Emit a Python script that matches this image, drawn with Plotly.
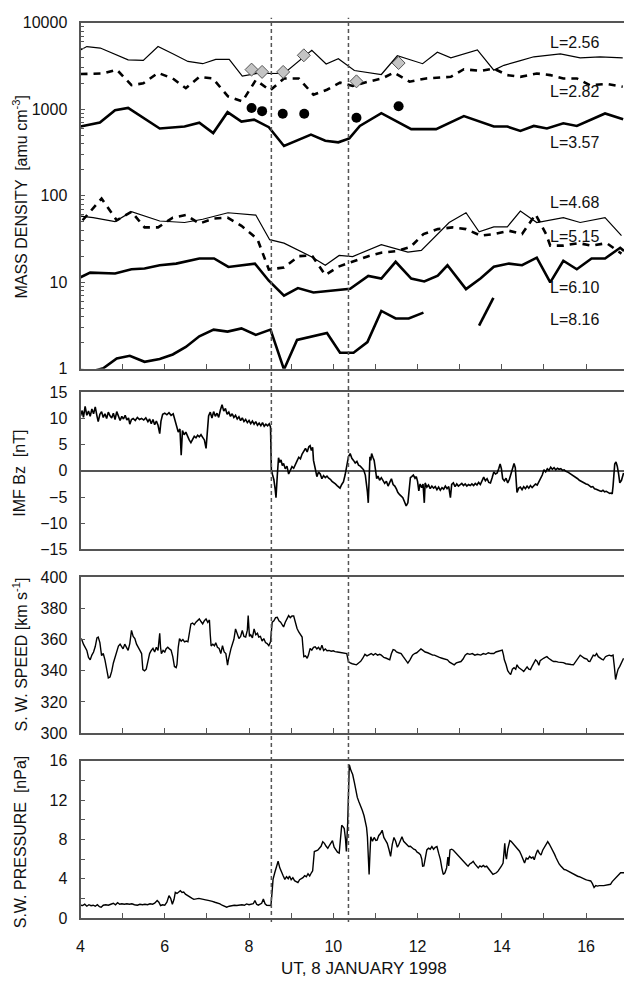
import plotly.graph_objects as go

# ---------------- data ----------------
event_times = [8.53, 10.36]

L256_t = [4.0, 4.15, 4.47, 5.13, 5.49, 5.84, 6.19, 6.55, 6.9, 7.21, 7.53, 7.84, 8.2, 8.55, 8.83, 9.49, 9.83, 10.12, 10.5, 11.14, 11.52, 12.12, 12.47, 12.79, 13.42, 13.81, 14.05, 14.4, 14.76, 15.39, 15.86, 16.33, 16.87]
L256 = [4840, 5300, 5100, 3730, 3670, 5300, 4370, 3570, 3360, 3770, 3770, 2420, 2600, 2620, 2590, 4800, 3330, 3830, 2800, 2520, 4150, 3360, 4560, 3930, 4840, 2830, 3220, 3600, 4040, 4370, 3930, 4040, 3930]

L282_t = [4.0, 4.54, 4.86, 5.21, 5.49, 5.84, 6.19, 6.5, 6.82, 7.14, 7.5, 7.84, 8.16, 8.5, 8.83, 9.18, 9.53, 9.85, 10.16, 10.46, 10.83, 11.16, 11.44, 11.81, 12.2, 12.79, 13.1, 13.5, 13.81, 14.13, 14.44, 14.83, 15.15, 15.46, 15.78, 16.09, 16.49, 16.87]
L282 = [2550, 2590, 2870, 1900, 1990, 2630, 2270, 1750, 2370, 2270, 1410, 1230, 2170, 1650, 2270, 2270, 1470, 1680, 2030, 1860, 2080, 2270, 2650, 2080, 2270, 2370, 2900, 2770, 2950, 2480, 2370, 2590, 2480, 2270, 2270, 1900, 1960, 1820]

L357_t = [4.0, 4.46, 4.82, 5.13, 5.88, 6.47, 6.82, 7.15, 7.49, 7.82, 8.12, 8.47, 8.83, 9.47, 9.81, 10.12, 10.38, 10.63, 11.14, 11.61, 11.85, 12.44, 13.1, 13.81, 14.13, 14.44, 14.76, 15.07, 15.46, 15.78, 16.45, 16.88]
L357 = [630, 700, 975, 1035, 598, 630, 700, 530, 925, 720, 757, 620, 376, 508, 432, 414, 460, 641, 900, 670, 588, 588, 832, 630, 630, 562, 641, 598, 687, 641, 893, 764]

L468_t = [4.0, 4.3, 4.82, 5.21, 5.88, 6.47, 6.9, 7.5, 8.16, 8.49, 8.83, 9.49, 9.81, 10.14, 10.46, 11.14, 11.77, 12.09, 12.75, 13.15, 13.46, 13.81, 14.13, 14.44, 14.83, 15.46, 15.86, 16.45, 16.84]
L468 = [58.2, 55.7, 50.2, 65.3, 51, 49, 53.4, 63.5, 59.7, 31, 28.3, 19.6, 15.7, 20.4, 19.8, 27.1, 22.3, 23.3, 49, 63.5, 38.3, 43.6, 43.6, 66.4, 49, 55.7, 49, 55.7, 34.5]

L515_t = [4.05, 4.5, 4.86, 5.21, 5.52, 5.84, 6.19, 6.5, 6.82, 7.17, 7.49, 7.82, 8.2, 8.47, 8.83, 9.18, 9.49, 9.81, 10.12, 10.51, 10.83, 11.16, 11.48, 11.83, 12.14, 12.48, 12.83, 13.15, 13.5, 13.81, 14.17, 14.48, 14.8, 15.05, 15.15, 15.46, 15.82, 16.13, 16.49, 16.84]
L515 = [52, 92.5, 52, 65.3, 43, 43, 55.7, 59.7, 47.6, 54.5, 55.7, 44.8, 31.5, 14, 14.8, 20, 20.4, 12.1, 15.1, 17.7, 20, 22, 22.8, 25.5, 36, 41.1, 43, 41.1, 34.5, 36, 39.3, 36, 60.8, 36, 26.5, 26.5, 28.3, 26.5, 28.3, 21.4]

L610_t = [4.0, 4.23, 4.82, 5.21, 5.52, 5.88, 6.27, 6.82, 7.17, 7.51, 8.14, 8.47, 8.83, 9.16, 9.53, 10.04, 10.4, 10.83, 11.14, 11.48, 11.85, 12.16, 12.48, 12.71, 13.15, 13.5, 13.81, 14.17, 14.48, 14.83, 15.15, 15.46, 15.78, 16.13, 16.45, 16.81, 16.9]
L610 = [11.4, 12.9, 12.6, 14.1, 14.4, 15.7, 16.4, 18.8, 18.8, 15, 16.4, 10.4, 6.98, 8.55, 7.6, 8.06, 8.4, 11.8, 11, 17.2, 11, 10.2, 11.9, 15.7, 8.32, 11.1, 15.1, 16.4, 15.7, 19.2, 9.93, 17.7, 14.1, 18.8, 18.8, 25, 23]

L816_t = [4.0, 4.3, 4.54, 4.86, 5.17, 5.52, 5.88, 6.19, 6.5, 6.82, 7.16, 7.49, 7.82, 8.16, 8.51, 8.83, 9.14, 9.49, 9.85, 10.16, 10.48, 10.81, 11.14, 11.48, 11.79, 12.14, None, 13.46, 13.8]
L816 = [0.966, 0.94, 1.01, 1.31, 1.41, 1.2, 1.29, 1.46, 1.78, 2.37, 2.83, 2.68, 2.92, 2.46, 2.83, 0.98, 2.15, 2.37, 2.59, 1.53, 1.53, 2.03, 4.65, 3.8, 3.8, 4.45, None, 3.14, 6.58]

diam_t = [8.06, 8.31, 8.81, 9.3, 10.55, 11.55]
diam_v = [2870, 2700, 2700, 4200, 2100, 3420]
dot_t = [8.06, 8.31, 8.8, 9.31, 10.55, 11.55]
dot_v = [1035, 950, 885, 885, 796, 1080]

curve_labels = ["L=2.56", "L=2.82", "L=3.57", "L=4.68", "L=5.15", "L=6.10", "L=8.16"]
label_x = 15.1
label_logy = [3.773, 3.205, 2.614, 1.92, 1.534, 0.943, 0.568]

bz_t = [4.00, 4.04, 4.07, 4.11, 4.15, 4.19, 4.23, 4.27, 4.31, 4.35, 4.39, 4.42, 4.46, 4.50, 4.54, 4.58, 4.62, 4.66, 4.70, 4.74, 4.78, 4.82, 4.86, 4.90, 4.94, 4.98, 5.02, 5.06, 5.10, 5.14, 5.17, 5.21, 5.25, 5.30, 5.35, 5.40, 5.45, 5.50, 5.55, 5.60, 5.64, 5.68, 5.72, 5.76, 5.80, 5.84, 5.88, 5.91, 5.95, 6.00, 6.05, 6.10, 6.15, 6.20, 6.24, 6.28, 6.32, 6.36, 6.39, 6.42, 6.46, 6.50, 6.54, 6.58, 6.62, 6.66, 6.70, 6.74, 6.78, 6.82, 6.86, 6.90, 6.94, 6.98, 7.01, 7.04, 7.08, 7.12, 7.16, 7.20, 7.24, 7.28, 7.32, 7.36, 7.40, 7.44, 7.48, 7.52, 7.56, 7.60, 7.64, 7.68, 7.72, 7.76, 7.80, 7.84, 7.88, 7.92, 7.96, 8.00, 8.04, 8.08, 8.12, 8.16, 8.20, 8.24, 8.28, 8.32, 8.36, 8.40, 8.44, 8.48, 8.51, 8.53, 8.56, 8.59, 8.62, 8.64, 8.67, 8.70, 8.73, 8.76, 8.79, 8.82, 8.86, 8.90, 8.94, 8.98, 9.02, 9.06, 9.10, 9.14, 9.18, 9.22, 9.26, 9.30, 9.34, 9.38, 9.42, 9.45, 9.48, 9.51, 9.53, 9.57, 9.61, 9.65, 9.69, 9.73, 9.77, 9.81, 9.85, 9.89, 9.93, 9.97, 10.01, 10.05, 10.09, 10.13, 10.16, 10.20, 10.24, 10.28, 10.32, 10.36, 10.40, 10.44, 10.48, 10.52, 10.56, 10.60, 10.64, 10.68, 10.72, 10.76, 10.79, 10.81, 10.83, 10.85, 10.87, 10.89, 10.91, 10.94, 10.97, 11.00, 11.03, 11.06, 11.10, 11.14, 11.18, 11.22, 11.26, 11.30, 11.34, 11.38, 11.42, 11.46, 11.50, 11.53, 11.57, 11.61, 11.65, 11.69, 11.73, 11.77, 11.80, 11.83, 11.86, 11.90, 11.94, 11.97, 12.00, 12.03, 12.06, 12.10, 12.13, 12.16, 12.18, 12.22, 12.26, 12.30, 12.34, 12.38, 12.42, 12.46, 12.50, 12.54, 12.58, 12.62, 12.66, 12.70, 12.74, 12.78, 12.81, 12.85, 12.89, 12.93, 12.97, 13.01, 13.05, 13.09, 13.13, 13.17, 13.21, 13.25, 13.29, 13.33, 13.37, 13.41, 13.45, 13.49, 13.53, 13.57, 13.61, 13.65, 13.69, 13.73, 13.77, 13.81, 13.85, 13.89, 13.93, 13.96, 13.99, 14.02, 14.06, 14.10, 14.14, 14.18, 14.22, 14.26, 14.29, 14.32, 14.34, 14.36, 14.40, 14.44, 14.48, 14.52, 14.56, 14.60, 14.64, 14.68, 14.72, 14.76, 14.80, 14.84, 14.88, 14.92, 14.96, 15.00, 15.04, 15.08, 15.12, 15.16, 15.20, 15.24, 15.28, 15.32, 15.36, 15.40, 15.44, 15.48, 15.52, 15.56, 15.60, 15.64, 15.68, 15.72, 15.76, 15.80, 15.84, 15.88, 15.92, 15.96, 16.00, 16.04, 16.08, 16.12, 16.16, 16.20, 16.24, 16.28, 16.32, 16.36, 16.40, 16.44, 16.48, 16.52, 16.56, 16.60, 16.62, 16.64, 16.66, 16.68, 16.71, 16.74, 16.77, 16.80, 16.84, 16.89]
bz_v = [10.5, 11.5, 10.2, 12.3, 10.6, 11.4, 10.4, 11.8, 10.9, 12.2, 10.5, 9.4, 10.8, 11.3, 10.2, 10.9, 10.0, 11.2, 10.5, 10.1, 11.0, 9.8, 11.3, 10.2, 9.6, 10.4, 9.9, 10.6, 9.7, 10.1, 8.9, 9.8, 10.0, 9.6, 10.2, 9.8, 10.0, 9.7, 10.1, 9.4, 9.9, 9.0, 9.8, 8.8, 9.5, 8.7, 7.1, 9.5, 10.8, 11.0, 10.7, 11.1, 10.6, 10.9, 9.6, 8.6, 7.4, 8.0, 3.0, 7.7, 6.9, 7.4, 6.6, 5.9, 5.4, 6.1, 6.6, 6.3, 6.8, 6.5, 6.9, 6.4, 5.9, 4.3, 7.8, 10.5, 11.2, 10.1, 11.3, 10.4, 11.0, 10.2, 11.6, 12.6, 11.4, 11.9, 10.8, 11.2, 10.4, 10.9, 10.2, 10.6, 9.9, 10.3, 9.6, 10.1, 9.4, 9.8, 9.2, 9.6, 9.0, 9.5, 8.9, 9.4, 8.7, 9.1, 8.6, 9.2, 8.5, 8.9, 8.6, 9.0, 8.4, 0.2, -0.8, -1.7, -3.5, -5.1, -1.0, 2.5, 1.6, 2.1, 1.0, 1.4, 0.4, 0.9, -0.6, 0.3, 0.8, 0.5, 1.4, 1.9, 2.6, 2.3, 3.2, 3.8, 4.3, 3.6, 4.6, 4.8, 3.9, 4.5, 2.0, 0.5, -1.1, -0.2, -0.6, -1.5, -0.9, -1.3, -1.0, -1.4, -1.6, -2.0, -2.2, -2.5, -2.8, -3.1, -3.3, -2.6, -2.1, -0.8, 0.8, 2.7, 3.3, 2.4, 2.0, 1.5, 1.8, 1.1, 0.9, 0.5, 0.2, -0.8, -2.3, -4.0, -6.1, 0.5, 2.7, 2.0, 3.3, 2.6, 2.0, 0.3, -1.5, -1.0, -1.8, -1.3, -1.9, -2.4, -2.0, -2.9, -2.2, -1.5, -2.6, -2.9, -3.5, -4.1, -4.5, -4.9, -5.1, -5.9, -6.7, -6.1, -4.0, -1.3, -1.1, -0.8, -1.4, -1.1, -2.0, -3.8, -2.5, -3.2, -2.5, -6.1, -2.3, -3.1, -2.7, -3.4, -2.9, -3.3, -3.0, -3.6, -3.1, -3.7, -3.2, -3.5, -2.9, -3.4, -3.0, -5.1, -2.6, -2.3, -3.0, -2.5, -2.9, -2.6, -2.4, -2.8, -2.5, -2.9, -2.6, -2.8, -2.5, -2.8, -2.4, -2.7, -2.2, -2.6, -1.8, -1.2, -1.9, -1.5, -2.2, -2.3, -1.3, -0.2, -0.6, -0.4, 0.5, 1.3, 0.4, -1.5, -1.9, -1.4, -2.3, -1.6, -0.5, 0.9, 1.4, 0.6, -2.0, -4.1, -3.3, -3.1, -3.6, -3.0, -3.4, -2.9, -3.3, -2.8, -3.2, -2.9, -2.5, -2.7, -2.1, -1.6, -0.8, 0.2, -0.2, 0.4, 0.1, 0.7, 0.3, 0.6, 0.2, 0.5, 0.3, 0.4, 0.1, 0.2, -0.1, -0.2, -0.4, -0.6, -0.8, -1.1, -1.3, -1.5, -1.8, -2.0, -2.1, -2.3, -2.5, -2.6, -2.9, -3.1, -3.0, -3.4, -3.5, -3.7, -3.8, -3.9, -3.7, -4.0, -3.9, -4.1, -4.3, -4.2, -4.4, -2.9, 0.2, 1.3, 1.7, 0.9, -0.5, -2.3, -1.8, -0.4]

sp_t = [4.00, 4.03, 4.07, 4.11, 4.15, 4.19, 4.23, 4.27, 4.31, 4.35, 4.39, 4.42, 4.46, 4.50, 4.54, 4.58, 4.62, 4.66, 4.70, 4.74, 4.78, 4.82, 4.86, 4.90, 4.94, 4.97, 5.01, 5.05, 5.09, 5.13, 5.17, 5.21, 5.25, 5.29, 5.33, 5.37, 5.41, 5.45, 5.48, 5.52, 5.56, 5.60, 5.64, 5.68, 5.72, 5.76, 5.80, 5.84, 5.88, 5.90, 5.92, 5.96, 6.00, 6.03, 6.07, 6.11, 6.15, 6.19, 6.23, 6.27, 6.29, 6.32, 6.35, 6.39, 6.43, 6.47, 6.51, 6.55, 6.58, 6.62, 6.66, 6.70, 6.74, 6.78, 6.82, 6.86, 6.90, 6.94, 6.98, 7.02, 7.06, 7.08, 7.10, 7.14, 7.18, 7.21, 7.25, 7.29, 7.33, 7.37, 7.41, 7.45, 7.47, 7.49, 7.51, 7.53, 7.57, 7.61, 7.64, 7.68, 7.72, 7.76, 7.80, 7.84, 7.88, 7.92, 7.96, 7.98, 8.01, 8.04, 8.08, 8.12, 8.16, 8.20, 8.23, 8.27, 8.31, 8.35, 8.39, 8.43, 8.47, 8.51, 8.53, 8.55, 8.59, 8.63, 8.67, 8.71, 8.75, 8.79, 8.82, 8.86, 8.90, 8.94, 8.98, 9.02, 9.06, 9.10, 9.14, 9.18, 9.22, 9.26, 9.28, 9.30, 9.34, 9.38, 9.41, 9.45, 9.49, 9.53, 9.57, 9.61, 9.65, 9.69, 9.73, 9.77, 9.81, 9.85, 9.90, 9.95, 10.00, 10.04, 10.10, 10.16, 10.22, 10.28, 10.32, 10.36, 10.40, 10.45, 10.50, 10.55, 10.60, 10.65, 10.70, 10.75, 10.80, 10.85, 10.90, 10.95, 11.00, 11.05, 11.10, 11.14, 11.20, 11.26, 11.30, 11.34, 11.38, 11.42, 11.46, 11.50, 11.55, 11.61, 11.66, 11.72, 11.77, 11.82, 11.88, 11.93, 11.98, 12.04, 12.08, 12.12, 12.18, 12.24, 12.30, 12.36, 12.40, 12.46, 12.52, 12.58, 12.64, 12.71, 12.76, 12.82, 12.87, 12.92, 12.98, 13.03, 13.08, 13.13, 13.18, 13.24, 13.30, 13.36, 13.42, 13.50, 13.56, 13.62, 13.68, 13.74, 13.81, 13.86, 13.92, 13.97, 14.01, 14.04, 14.06, 14.10, 14.14, 14.18, 14.21, 14.25, 14.29, 14.33, 14.36, 14.40, 14.44, 14.48, 14.52, 14.56, 14.60, 14.64, 14.68, 14.72, 14.76, 14.80, 14.84, 14.88, 14.91, 14.95, 14.99, 15.03, 15.07, 15.11, 15.15, 15.19, 15.23, 15.28, 15.34, 15.40, 15.46, 15.52, 15.58, 15.64, 15.70, 15.75, 15.80, 15.86, 15.91, 15.96, 16.02, 16.06, 16.09, 16.13, 16.17, 16.21, 16.25, 16.29, 16.33, 16.37, 16.41, 16.46, 16.50, 16.55, 16.60, 16.64, 16.67, 16.70, 16.73, 16.76, 16.80, 16.84, 16.89]
sp_v = [360.5, 360.0, 357.0, 355.0, 353.0, 348.5, 347.0, 350.0, 352.0, 355.5, 361.0, 361.5, 358.0, 349.7, 351.0, 347.0, 342.0, 335.4, 336.0, 339.6, 345.0, 349.0, 352.0, 355.8, 357.0, 356.0, 354.0, 357.0, 355.3, 353.0, 357.4, 365.8, 362.0, 360.6, 357.0, 355.3, 353.0, 351.0, 340.7, 340.0, 341.0, 346.0, 351.0, 353.0, 354.3, 352.0, 355.0, 353.0, 363.9, 355.0, 351.0, 353.0, 352.0, 354.0, 355.0, 354.0, 353.2, 349.0, 342.7, 342.0, 344.0, 355.0, 360.6, 359.0, 360.0, 358.5, 359.0, 358.5, 365.0, 370.0, 370.5, 369.5, 371.1, 372.0, 373.2, 371.5, 370.0, 372.0, 373.2, 371.0, 372.5, 363.0, 355.8, 357.0, 356.0, 357.9, 355.0, 354.3, 351.0, 356.0, 352.0, 351.0, 346.0, 343.6, 347.0, 350.0, 354.0, 357.4, 360.0, 366.8, 363.0, 360.6, 362.0, 365.8, 362.0, 361.6, 366.0, 375.3, 362.0, 363.0, 361.0, 366.8, 363.0, 364.0, 361.6, 362.0, 359.0, 360.6, 358.0, 357.4, 356.0, 358.5, 365.0, 371.1, 372.0, 374.0, 374.2, 372.0, 371.1, 369.0, 368.0, 371.0, 373.0, 375.3, 374.0, 375.0, 375.0, 370.0, 367.0, 364.8, 363.0, 361.6, 355.0, 349.0, 349.5, 348.0, 350.0, 354.3, 353.2, 355.0, 355.3, 354.0, 355.0, 353.2, 356.4, 353.0, 354.0, 352.8, 353.0, 352.5, 352.8, 352.2, 352.0, 351.8, 351.5, 351.5, 351.0, 345.9, 345.0, 344.5, 344.0, 343.8, 345.0, 346.0, 348.0, 350.5, 349.5, 350.0, 351.0, 350.0, 351.0, 350.0, 350.5, 350.0, 348.5, 348.0, 347.5, 347.0, 351.0, 353.5, 353.2, 352.0, 351.5, 351.0, 349.0, 346.5, 344.9, 347.0, 350.0, 351.0, 351.5, 353.0, 354.0, 353.2, 352.0, 351.5, 350.5, 350.0, 350.0, 349.0, 348.5, 348.0, 347.5, 347.0, 345.5, 344.5, 343.8, 345.0, 345.5, 345.9, 347.5, 350.0, 351.0, 350.5, 351.0, 350.0, 350.5, 350.0, 351.0, 350.5, 351.5, 351.0, 351.0, 352.0, 352.5, 353.0, 353.2, 350.0, 347.0, 344.0, 340.0, 338.5, 337.5, 341.0, 342.0, 341.0, 343.8, 342.0, 341.5, 340.5, 339.6, 341.0, 342.5, 341.0, 340.7, 343.0, 345.0, 347.0, 346.0, 343.5, 346.5, 347.5, 348.0, 348.5, 349.0, 348.0, 347.0, 346.5, 345.9, 346.0, 345.5, 345.5, 345.2, 344.5, 344.0, 344.0, 343.8, 346.0, 348.0, 350.0, 349.0, 348.0, 347.5, 346.0, 345.9, 348.0, 350.0, 349.5, 351.0, 349.0, 348.0, 347.5, 347.0, 349.0, 349.5, 350.0, 349.5, 350.0, 343.0, 334.4, 338.0, 341.0, 342.8, 345.0, 348.0]

pr_t = [4.00, 4.05, 4.10, 4.15, 4.20, 4.25, 4.30, 4.35, 4.40, 4.45, 4.49, 4.54, 4.60, 4.66, 4.72, 4.78, 4.83, 4.88, 4.93, 4.98, 5.04, 5.10, 5.16, 5.22, 5.28, 5.35, 5.41, 5.47, 5.53, 5.59, 5.65, 5.71, 5.76, 5.82, 5.86, 5.90, 5.95, 6.00, 6.05, 6.10, 6.14, 6.18, 6.22, 6.25, 6.29, 6.33, 6.37, 6.41, 6.45, 6.49, 6.53, 6.57, 6.61, 6.65, 6.69, 6.73, 6.77, 6.81, 6.86, 6.92, 6.97, 7.03, 7.08, 7.13, 7.19, 7.25, 7.31, 7.36, 7.41, 7.47, 7.53, 7.59, 7.65, 7.71, 7.77, 7.83, 7.89, 7.94, 8.00, 8.05, 8.10, 8.14, 8.18, 8.22, 8.26, 8.30, 8.34, 8.38, 8.42, 8.47, 8.52, 8.55, 8.57, 8.61, 8.65, 8.69, 8.73, 8.77, 8.81, 8.85, 8.89, 8.93, 8.96, 9.00, 9.04, 9.08, 9.12, 9.16, 9.20, 9.24, 9.28, 9.32, 9.36, 9.40, 9.44, 9.48, 9.51, 9.55, 9.59, 9.63, 9.67, 9.71, 9.75, 9.79, 9.83, 9.87, 9.91, 9.94, 9.98, 10.02, 10.06, 10.10, 10.14, 10.17, 10.20, 10.23, 10.26, 10.29, 10.31, 10.34, 10.36, 10.38, 10.42, 10.46, 10.50, 10.54, 10.57, 10.61, 10.65, 10.69, 10.73, 10.77, 10.79, 10.81, 10.83, 10.85, 10.87, 10.89, 10.93, 10.97, 11.01, 11.04, 11.08, 11.12, 11.16, 11.20, 11.24, 11.28, 11.32, 11.36, 11.40, 11.44, 11.48, 11.52, 11.55, 11.59, 11.63, 11.67, 11.71, 11.75, 11.79, 11.83, 11.87, 11.91, 11.95, 11.99, 12.03, 12.07, 12.10, 12.12, 12.15, 12.18, 12.22, 12.26, 12.30, 12.34, 12.38, 12.42, 12.46, 12.50, 12.54, 12.58, 12.61, 12.65, 12.69, 12.72, 12.74, 12.77, 12.81, 12.85, 12.89, 12.93, 12.97, 13.01, 13.05, 13.09, 13.13, 13.17, 13.20, 13.24, 13.28, 13.32, 13.36, 13.40, 13.44, 13.48, 13.52, 13.56, 13.60, 13.64, 13.68, 13.72, 13.76, 13.79, 13.83, 13.87, 13.91, 13.95, 13.99, 14.03, 14.05, 14.07, 14.09, 14.11, 14.14, 14.17, 14.19, 14.22, 14.26, 14.30, 14.34, 14.38, 14.42, 14.46, 14.50, 14.54, 14.58, 14.62, 14.66, 14.70, 14.74, 14.77, 14.81, 14.85, 14.89, 14.93, 14.97, 15.01, 15.05, 15.09, 15.13, 15.17, 15.21, 15.25, 15.29, 15.32, 15.36, 15.40, 15.44, 15.48, 15.52, 15.56, 15.60, 15.64, 15.68, 15.72, 15.76, 15.80, 15.84, 15.88, 15.91, 15.95, 15.99, 16.03, 16.07, 16.11, 16.15, 16.19, 16.23, 16.27, 16.31, 16.34, 16.38, 16.42, 16.46, 16.50, 16.54, 16.58, 16.62, 16.66, 16.70, 16.74, 16.78, 16.82, 16.86, 16.91]
pr_v = [1.3, 1.27, 1.4, 1.2, 1.35, 1.25, 1.3, 1.2, 1.35, 1.15, 1.1, 1.3, 1.35, 1.3, 1.4, 1.5, 1.35, 1.55, 1.4, 1.45, 1.4, 1.45, 1.4, 1.45, 1.35, 1.3, 1.4, 1.35, 1.4, 1.35, 1.45, 1.4, 1.5, 1.77, 1.6, 1.27, 1.35, 1.3, 1.6, 2.27, 2.0, 1.4, 1.9, 2.6, 2.5, 2.65, 2.77, 2.6, 2.65, 2.43, 2.3, 2.2, 2.1, 2.0, 1.9, 1.95, 1.93, 2.0, 1.95, 1.93, 1.85, 1.8, 1.77, 1.7, 1.6, 1.55, 1.43, 1.3, 1.2, 1.1, 1.2, 1.25, 1.3, 1.27, 1.3, 1.35, 1.3, 1.43, 1.35, 1.4, 1.45, 1.77, 1.4, 1.3, 1.4, 1.5, 1.93, 1.45, 1.3, 1.3, 1.27, 2.8, 3.93, 4.6, 5.2, 5.77, 5.1, 4.6, 4.3, 3.93, 4.2, 4.0, 4.27, 3.9, 4.1, 3.8, 3.7, 3.6, 3.9, 4.0, 4.1, 4.3, 4.2, 4.5, 4.27, 4.6, 4.8, 6.77, 6.8, 6.9, 7.1, 7.3, 7.77, 7.6, 7.3, 7.1, 7.4, 7.6, 7.87, 7.2, 6.93, 6.7, 6.6, 8.4, 9.43, 9.3, 9.1, 8.0, 6.77, 9.5, 13.5, 15.6, 15.0, 14.6, 13.8, 12.8, 12.27, 11.8, 11.4, 10.93, 10.4, 9.77, 9.2, 8.27, 6.0, 4.43, 6.5, 8.27, 7.8, 8.2, 7.9, 7.93, 8.4, 8.6, 8.93, 8.2, 7.9, 7.6, 7.0, 6.27, 7.5, 8.2, 7.8, 7.2, 7.43, 7.9, 8.27, 7.8, 7.6, 7.5, 7.27, 7.3, 7.1, 7.0, 6.93, 6.7, 6.6, 6.43, 6.0, 5.27, 5.3, 6.2, 6.93, 7.1, 7.0, 7.27, 7.0, 7.2, 7.27, 6.6, 6.0, 5.0, 4.43, 4.6, 5.1, 6.2, 5.3, 6.93, 7.0, 6.9, 6.7, 6.6, 6.3, 6.1, 5.93, 5.7, 5.5, 5.4, 5.27, 5.5, 5.6, 5.77, 5.5, 5.3, 5.1, 5.3, 5.2, 5.35, 5.2, 5.27, 5.0, 4.8, 4.6, 4.43, 4.5, 4.6, 4.77, 5.0, 5.27, 5.6, 6.5, 7.6, 6.4, 6.0, 7.0, 7.6, 7.87, 7.8, 7.6, 7.43, 7.2, 7.0, 6.8, 6.43, 6.0, 5.6, 6.1, 6.0, 6.27, 6.1, 6.2, 5.93, 6.5, 6.93, 6.6, 6.4, 6.9, 7.2, 7.5, 7.77, 7.5, 7.2, 6.93, 6.5, 6.1, 5.77, 5.5, 5.3, 5.1, 4.93, 4.9, 4.8, 4.7, 4.6, 4.5, 4.43, 4.3, 4.25, 4.2, 4.1, 4.1, 4.0, 3.9, 3.85, 3.8, 3.77, 3.5, 3.1, 3.3, 3.25, 3.3, 3.27, 3.3, 3.3, 3.35, 3.4, 3.4, 3.43, 3.7, 3.9, 4.1, 4.3, 4.5, 4.6, 4.6, 4.6]

# ---------------- figure ----------------
W, H = 624, 984
FONT = "Liberation Sans, Arial, sans-serif"
TXT = "#111111"
AX = "#555555"
XD = [77 / W, 1.0]
XR = [4, 16.9]


def ydom(top_px, bot_px):
    return [1 - bot_px / H, 1 - top_px / H]


fig = go.Figure()

def line(x, y, xa, ya, width, dash="solid", color="black"):
    fig.add_trace(go.Scatter(x=x, y=y, xaxis=xa, yaxis=ya, mode="lines",
                             line=dict(color=color, width=width, dash=dash),
                             showlegend=False, hoverinfo="skip", connectgaps=False))

DASH = "7px,6px"
line(L256_t, L256, "x", "y", 1.2)
line(L282_t, L282, "x", "y", 2.6, DASH)
line(L357_t, L357, "x", "y", 2.6)
line(L468_t, L468, "x", "y", 1.2)
line(L515_t, L515, "x", "y", 2.6, DASH)
line(L610_t, L610, "x", "y", 2.6)
line(L816_t, L816, "x", "y", 2.6)

fig.add_trace(go.Scatter(x=diam_t, y=diam_v, xaxis="x", yaxis="y", mode="markers",
                         marker=dict(symbol="diamond", size=10, color="#c4c4c4",
                                     line=dict(color="#555555", width=1)),
                         showlegend=False, hoverinfo="skip"))
fig.add_trace(go.Scatter(x=dot_t, y=dot_v, xaxis="x", yaxis="y", mode="markers",
                         marker=dict(symbol="circle", size=10, color="black"),
                         showlegend=False, hoverinfo="skip"))

line(bz_t, bz_v, "x2", "y2", 1.6)
line(sp_t, sp_v, "x3", "y3", 1.4)
line(pr_t, pr_v, "x4", "y4", 1.4)

tickfont = dict(family=FONT, size=16, color=TXT)
common_x = dict(domain=XD, range=XR, showgrid=False, zeroline=False, showline=True,
                linecolor=AX, linewidth=2, mirror=True)
common_y = dict(showgrid=False, showline=True, linecolor=AX, linewidth=2,
                tickfont=tickfont, ticks="inside", ticklen=4, tickcolor=AX,
                ticklabelstandoff=8)

d1 = ydom(15, 367)
d2 = ydom(391, 551)
d3 = ydom(579, 738)
d4 = ydom(766, 926)

minor_log = [m * 10 ** d for d in range(4) for m in range(2, 10)]

fig.update_layout(
    width=W, height=H, margin=dict(l=0, r=0, t=0, b=0),
    paper_bgcolor="white", plot_bgcolor="white",
    font=dict(family=FONT, size=16, color=TXT),
    xaxis=dict(**common_x, anchor="y", ticks="inside", dtick=1, tick0=4, ticklen=5,
               tickcolor=AX, showticklabels=False),
    yaxis=dict(**common_y, domain=d1, anchor="x", type="log", range=[0, 4],
               tickvals=[1, 10, 100, 1000, 10000], ticktext=["1", "10", "100", "1000", "10000"],
               zeroline=False,
               minor=dict(tickvals=minor_log, ticks="inside", ticklen=3, tickcolor=AX)),
    xaxis2=dict(**common_x, anchor="y2", ticks="", showticklabels=False),
    yaxis2=dict(**common_y, domain=d2, anchor="x2", range=[-15, 15], dtick=5,
                zeroline=True, zerolinecolor=AX, zerolinewidth=1.6),
    xaxis5=dict(overlaying="x2", anchor="free", position=1 - 471 / H, range=XR,
                showgrid=False, zeroline=False, showline=False, ticks="inside",
                dtick=1, tick0=4, ticklen=6, tickcolor=AX, showticklabels=False),
    xaxis3=dict(**common_x, anchor="y3", ticks="inside", dtick=1, tick0=4, ticklen=5,
                tickcolor=AX, showticklabels=False),
    yaxis3=dict(**common_y, domain=d3, anchor="x3", range=[300, 400], dtick=20, zeroline=False),
    xaxis4=dict(**common_x, anchor="y4", ticks="inside", tickvals=[4, 6, 8, 10, 12, 14, 16],
                ticklen=5, tickcolor=AX, tickfont=tickfont, ticklabelstandoff=13,
                minor=dict(dtick=1, tick0=4, ticks="inside", ticklen=5, tickcolor=AX)),
    yaxis4=dict(**common_y, domain=d4, anchor="x4", range=[0, 16],
                tickvals=[0, 4, 8, 12, 16], zeroline=False,
                minor=dict(dtick=2, tick0=0, ticks="inside", ticklen=4, tickcolor=AX)),
)

# event lines
for t in event_times:
    fig.add_shape(type="line", xref="x", yref="paper", x0=t, x1=t,
                  y0=1 - 930 / H, y1=1 - 10 / H,
                  line=dict(color="#555555", width=1.5, dash="4px,3px"))

# curve labels
for txt, ly in zip(curve_labels, label_logy):
    fig.add_annotation(text=txt, x=label_x, y=ly, xref="x", yref="y", xanchor="left",
                       yanchor="middle", showarrow=False,
                       font=dict(family=FONT, size=16, color=TXT))

# axis titles
titles = [("MASS DENSITY  [amu cm<sup>-3</sup>]", 192),
          ("IMF Bz  [nT]", 473),
          ("S. W. SPEED [km s<sup>-1</sup>]", 658),
          ("S.W. PRESSURE  [nPa]", 848)]
for txt, ypx in titles:
    fig.add_annotation(text=txt, x=16 / W, y=1 - ypx / H, xref="paper", yref="paper",
                       textangle=-90, xanchor="center", yanchor="middle", showarrow=False,
                       font=dict(family=FONT, size=16, color=TXT))

fig.add_annotation(text="UT, 8 JANUARY 1998", x=362 / W, y=-0.004, xref="paper",
                   yref="paper", xanchor="center", yanchor="bottom", showarrow=False,
                   borderpad=0, font=dict(family=FONT, size=17, color=TXT))

fig.write_html("out.html")
